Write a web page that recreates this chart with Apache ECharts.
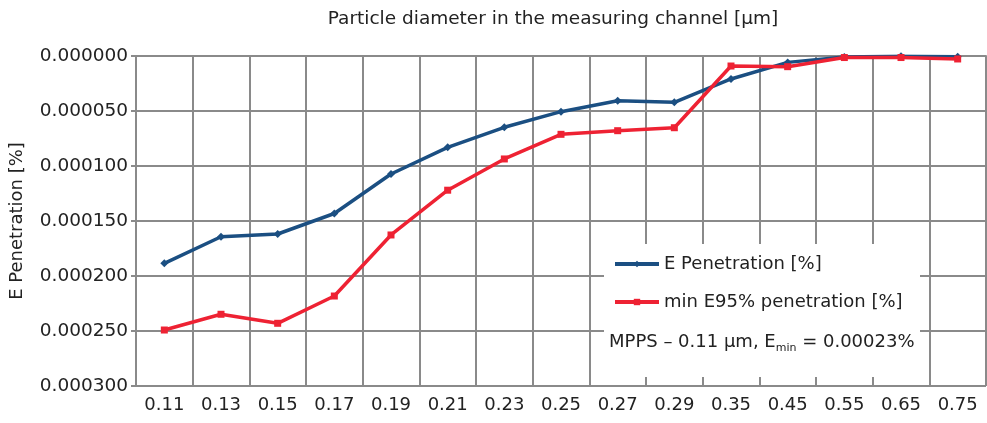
<!DOCTYPE html>
<html>
<head>
<meta charset="utf-8">
<script src="https://cdn.jsdelivr.net/npm/echarts@6/dist/echarts.min.js"></script>
<style>html,body{margin:0;padding:0;background:#fff;}#c{width:987px;height:423px;}</style>
</head>
<body>
<div id="c"></div>
<script>
var categories = ['0.11','0.13','0.15','0.17','0.19','0.21','0.23','0.25','0.27','0.29','0.35','0.45','0.55','0.65','0.75'];
var ePenetration = [0.0001885,0.0001643,0.0001618,0.0001432,0.0001073,0.0000830,0.0000648,0.0000506,0.0000406,0.0000421,0.0000209,0.0000058,0.0000008,0.0000003,0.0000006];
var minE95 = [0.0002491,0.0002348,0.0002430,0.0002182,0.0001627,0.0001220,0.0000936,0.0000712,0.0000679,0.0000652,0.0000091,0.0000097,0.0000014,0.0000014,0.0000027];
var yTickLabels = ['0.000000','0.000050','0.000100','0.000150','0.000200','0.000250','0.000300'];

var FONT = 'DejaVu Sans';
var chart = echarts.init(document.getElementById('c'), null, {renderer:'canvas'});
chart.setOption({
  animation: false,
  backgroundColor: '#fff',
  title: {
    text: 'Particle diameter in the measuring channel [µm]',
    left: 548, top: 5, textAlign: 'center',
    textStyle: {fontFamily: FONT, fontSize: 18.5, fontWeight: 'normal', color: '#222'}
  },
  grid: {left: 136, right: 1, top: 56, bottom: 37, containLabel: false},
  xAxis: {
    type: 'category', data: categories, boundaryGap: true,
    axisLine: {lineStyle: {color: '#8a8a8a', width: 2}},
    axisTick: {show: false},
    splitLine: {show: true, interval: 0, lineStyle: {color: '#8a8a8a', width: 2}},
    axisLabel: {interval: 0, fontFamily: FONT, fontSize: 18, color: '#222', margin: 10}
  },
  yAxis: {
    type: 'value', inverse: true, min: 0, max: 0.0003, interval: 0.00005,
    name: 'E Penetration [%]', nameLocation: 'middle', nameGap: 110,
    nameTextStyle: {fontFamily: FONT, fontSize: 18, color: '#222'},
    axisLine: {show: true, lineStyle: {color: '#8a8a8a', width: 2}},
    axisTick: {show: true, length: 5, lineStyle: {color: '#8a8a8a', width: 2}},
    splitLine: {show: true, lineStyle: {color: '#8a8a8a', width: 2}},
    axisLabel: {fontFamily: FONT, fontSize: 18.5, color: '#222', margin: 8,
      formatter: function (v) { return yTickLabels[Math.round(v / 0.00005)]; }}
  },
  legend: {
    left: 608, top: 250, orient: 'vertical', itemGap: 20, itemWidth: 44, itemHeight: 8,
    z: 10,
    lineStyle: {width: 4},
    textStyle: {fontFamily: FONT, fontSize: 18, color: '#222'},
    data: ['E Penetration [%]', 'min E95% penetration [%]']
  },
  graphic: [
    {type: 'rect', shape: {x: 604, y: 244, width: 316, height: 133}, style: {fill: '#fff'}, z: 5},
    {type: 'text', x: 609, y: 342, z: 10, style: {
      text: '{n|MPPS – 0.11 µm, E}{s|min}{n| = 0.00023%}',
      verticalAlign: 'middle',
      rich: {
        n: {fontFamily: FONT, fontSize: 18, fill: '#222'},
        s: {fontFamily: FONT, fontSize: 11, fill: '#222', padding: [13, 0, 0, 0]}
      }
    }}
  ],
  series: [
    {name: 'E Penetration [%]', type: 'line', data: ePenetration, symbol: 'diamond', symbolSize: 8,
      lineStyle: {color: '#1b4f82', width: 3.5}, itemStyle: {color: '#1b4f82'}, z: 3},
    {name: 'min E95% penetration [%]', type: 'line', data: minE95, symbol: 'rect', symbolSize: 7,
      lineStyle: {color: '#ee2233', width: 3.5}, itemStyle: {color: '#ee2233'}, z: 4}
  ]
});
</script>
</body>
</html>
